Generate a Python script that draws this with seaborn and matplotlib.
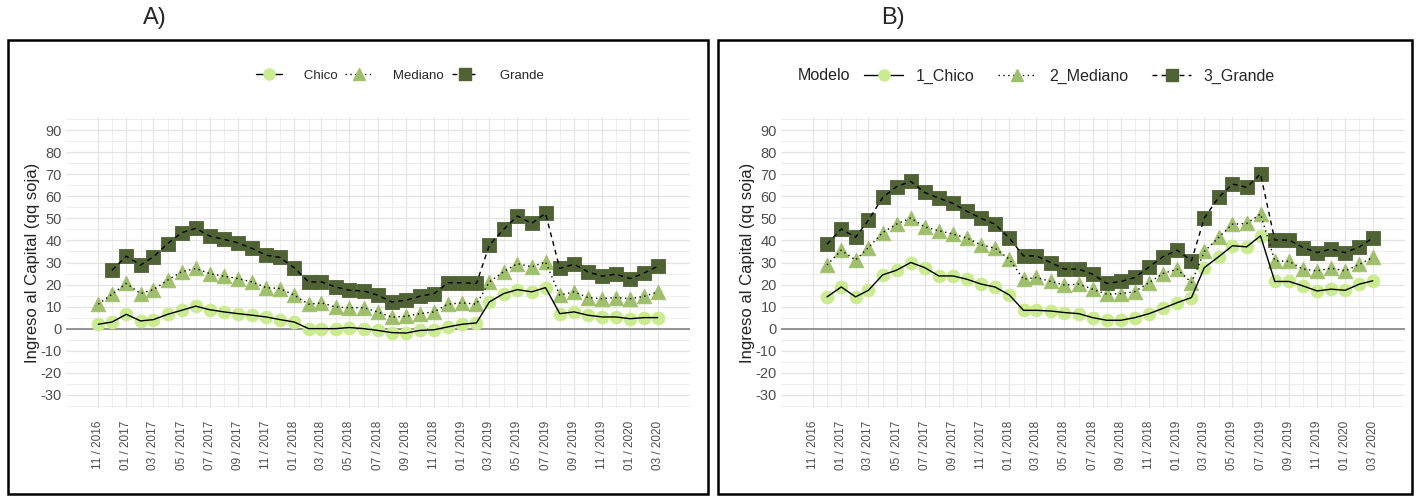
import numpy as np
import pandas as pd
import matplotlib
matplotlib.use("Agg")
import matplotlib.pyplot as plt
import matplotlib.dates as mdates
import matplotlib.ticker as mticker
from matplotlib.lines import Line2D
from matplotlib.patches import Rectangle
import seaborn as sns

# ---- data -----------------------------------------------------------------
months_a = pd.date_range("2016-11-01", "2020-03-01", freq="MS")   # panel A months
months_b = months_a[1:]                                          # panel B starts 12/2016

a_chico = [2, 3, 6.5, 3.5, 4.1, 6.5, 8.3, 10.2, 8.6, 7.6, 6.8, 6.1, 5.3, 4.1, 3.0,
           0, 0, 0, 0.5, 0, -0.8, -1.8, -2, -0.8, -0.5, 0.8, 2, 2.6, 12.1, 15.9,
           17.7, 16.7, 18.6, 6.8, 7.6, 6.1, 5.3, 5.3, 4.5, 5, 5]
a_mediano = [11.1, 15.6, 20.5, 15.9, 17.7, 22, 25.8, 27.3, 25, 23.8, 22.7, 21.2,
             18.6, 18.2, 15.2, 11.1, 11.7, 9.8, 9.5, 9.5, 7.6, 5.2, 5.6, 6.8, 7.6,
             11.1, 11.7, 11.1, 21.2, 25.8, 29.5, 28, 30.3, 15.2, 16.7, 14.1, 13.6,
             14.1, 13.6, 14.7, 16.7]
a_grande = [np.nan, 26.5, 32.9, 28.8, 32.6, 38.6, 43.5, 45.5, 42, 40.5, 38.9, 36.4,
            33.3, 32.3, 27.6, 21.2, 21.2, 18.9, 17.4, 17.1, 15.2, 12.1, 12.9, 14.7,
            15.9, 20.8, 20.8, 20.5, 37.9, 45, 51.1, 47.7, 52.3, 27.3, 29.2, 25.8,
            23.8, 24.7, 22.7, 25.3, 28.3]

b_chico = [14.4, 18.9, 14.4, 17.4, 24.4, 26.5, 30, 27.7, 23.9, 23.9, 22.4, 20.2,
           18.9, 15.3, 8.3, 8.3, 8, 7.3, 6.8, 5, 3.8, 3.8, 5, 6.8, 9.2, 11.8, 14.1,
           27.7, 32.6, 37.6, 37.1, 42.1, 21.4, 21.4, 19.4, 17.1, 17.9, 17.4, 20.2, 21.7]
b_mediano = [28.9, 35.6, 31.1, 36.8, 43.6, 47.4, 50.2, 46.2, 44.4, 42.9, 41.1, 38,
             36.5, 31.5, 22.4, 23.2, 21.4, 19.8, 20.2, 17.9, 15.6, 15.9, 16.8, 20.9,
             25, 27, 20.9, 35, 41.4, 47.4, 47.7, 52, 30.8, 30.5, 27, 26.2, 27.4,
             26.2, 29.2, 32.3]
b_grande = [38.3, 45.2, 41.4, 49.2, 59.5, 64.4, 66.8, 61.8, 59.2, 56.8, 53.2, 50,
            47.4, 41.1, 33, 33, 30, 27, 27, 24.7, 20.5, 21.4, 23.2, 28, 32.6, 35.6,
            30.8, 50.2, 59.5, 65.6, 64.1, 70.2, 40.2, 40.2, 36.8, 34.5, 36.1, 34.5,
            37.1, 41.1]

labels_a = ["Chico", "Mediano", "Grande"]
labels_b = ["1_Chico", "2_Mediano", "3_Grande"]
y_ticks = list(range(-30, 91, 10))
x_breaks = months_a[::2]          # 11/2016, 01/2017, ... 03/2020

# ---- styling --------------------------------------------------------------
sns.set_theme(style="white")
plt.rcParams["font.family"] = ["Liberation Sans", "DejaVu Sans"]
plt.rcParams["axes.unicode_minus"] = False

colors = ["#C9EC8E", "#9EC06A", "#4E6233"]
markers = ["o", "^", "s"]
msizes = [85, 110, 100]
dashes = [(None, None), (1, 2.5), (3.5, 3)]
TICK_GREY = "#4D4D4D"

W, H = 1416, 498
fig = plt.figure(figsize=(W / 100, H / 100), dpi=100)


def fx(px):
    return px / W


def fy(py):
    return 1 - py / H


def draw_panel(ax, months_list, series):
    for i, (m, vals) in enumerate(zip(months_list, series)):
        df = pd.DataFrame({"mes": m, "valor": vals}).dropna()
        sns.scatterplot(data=df, x="mes", y="valor", ax=ax, marker=markers[i],
                        s=msizes[i], color=colors[i], edgecolor=colors[i],
                        linewidth=0.6, zorder=3, legend=False)
        ls = "-" if i == 0 else (0, dashes[i])
        sns.lineplot(data=df, x="mes", y="valor", ax=ax, color="black",
                     linewidth=1.0, linestyle=ls, zorder=4, legend=False)
    ax.axhline(0, color="#8C8C8C", linewidth=1.3, zorder=2)
    lo = months_a[0] - pd.Timedelta(days=70)
    hi = months_a[-1] + pd.Timedelta(days=70)
    ax.set_xlim(lo, hi)
    ax.set_ylim(-36, 96)
    ax.set_yticks(y_ticks)
    ax.yaxis.set_minor_locator(mticker.MultipleLocator(5))
    ax.xaxis.set_major_locator(mticker.FixedLocator(mdates.date2num(x_breaks)))
    ax.xaxis.set_minor_locator(mticker.FixedLocator(mdates.date2num(months_a)))
    ax.xaxis.set_major_formatter(mdates.DateFormatter("%m / %Y"))
    ax.grid(True, which="major", color="#E4E4E4", linewidth=0.9, zorder=0)
    ax.grid(True, which="minor", color="#EDEDED", linewidth=0.7, zorder=0)
    ax.set_axisbelow(True)
    for sp in ax.spines.values():
        sp.set_visible(False)
    ax.tick_params(axis="x", which="both", length=0, labelsize=8.5,
                   labelcolor=TICK_GREY, rotation=90, pad=9)
    ax.tick_params(axis="y", which="both", length=0, labelsize=10.5,
                   labelcolor=TICK_GREY, pad=3)
    ax.set_xlabel("")
    ax.set_ylabel("Ingreso al Capital (qq soja)", fontsize=12, color="#222222")
    ax.yaxis.set_label_coords(-0.042, 0.5)


def handles():
    hs = []
    for i in range(3):
        ls = "-" if i == 0 else (0, dashes[i])
        hs.append(Line2D([], [], color="black", linewidth=1.0, linestyle=ls,
                         marker=markers[i], markersize=8, markerfacecolor=colors[i],
                         markeredgecolor=colors[i]))
    return hs


# panel A
ax_a = fig.add_axes([fx(66), fy(408), fx(624), (408 - 117) / H])
draw_panel(ax_a, [months_a, months_a, months_a], [a_chico, a_mediano, a_grande])
ax_a.legend(handles(), ["   " + l for l in labels_a], loc="center left",
            bbox_to_anchor=(fx(244), fy(76)), bbox_transform=fig.transFigure,
            ncol=3, frameon=False, fontsize=9.5, handlelength=2.0,
            handletextpad=0.8, columnspacing=0.6)

# panel B
ax_b = fig.add_axes([fx(781), fy(408), fx(624), (408 - 117) / H])
draw_panel(ax_b, [months_b, months_b, months_b], [b_chico, b_mediano, b_grande])
ax_b.legend(handles(), labels_b, loc="center left",
            bbox_to_anchor=(fx(850), fy(76)), bbox_transform=fig.transFigure,
            ncol=3, frameon=False, fontsize=11.5, handlelength=2.4,
            handletextpad=0.8, columnspacing=1.5)
fig.text(fx(798), fy(76), "Modelo", fontsize=11.5, ha="left", va="center",
         color="#222222")

# outer frames and panel tags
for x0, x1 in [(8, 708), (718, 1412)]:
    fig.add_artist(Rectangle((fx(x0), fy(494)), fx(x1 - x0), (494 - 40) / H,
                             transform=fig.transFigure, fill=False,
                             edgecolor="black", linewidth=1.8))
fig.text(fx(155), fy(18), "A)", fontsize=17, ha="center", va="center")
fig.text(fx(893), fy(18), "B)", fontsize=17, ha="center", va="center")

fig.savefig("out.png", dpi=100)
